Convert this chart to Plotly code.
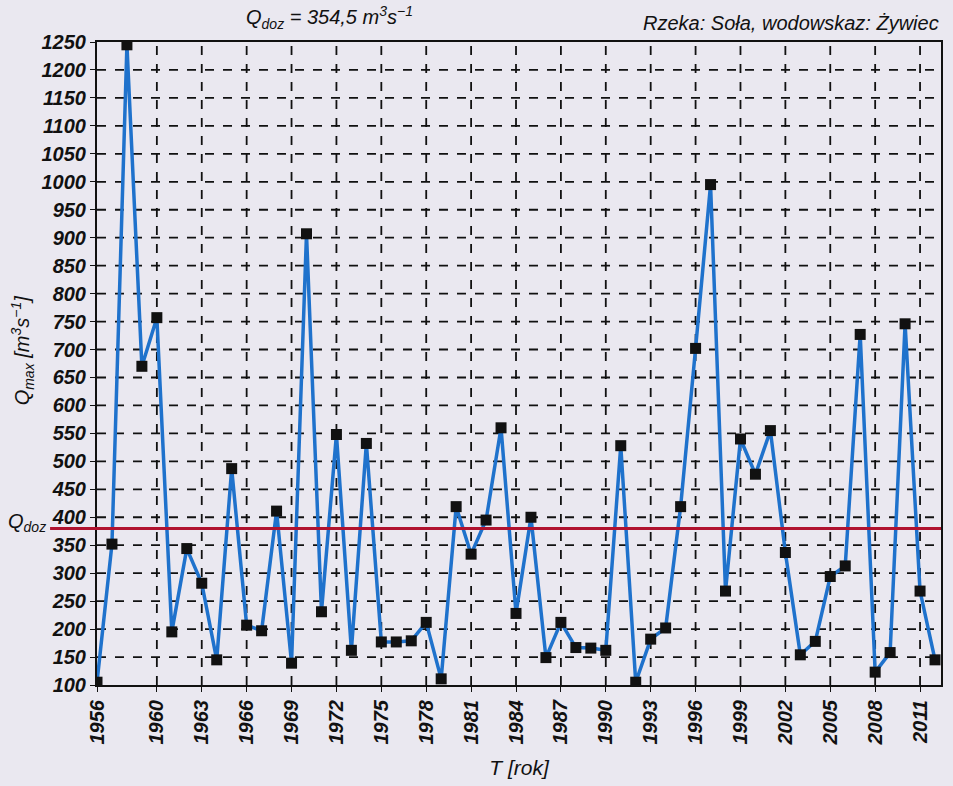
import plotly.graph_objects as go

years = list(range(1956, 2013))
qmax = [105, 352, 1245, 670, 757, 195, 344, 282, 145, 487,
        207, 197, 411, 139, 907, 231, 548, 162, 532, 177,
        177, 179, 212, 111, 419, 334, 395, 560, 228, 400,
        149, 212, 167, 166, 162, 528, 105, 182, 202, 419,
        702, 995, 268, 540, 477, 555, 337, 154, 178, 294,
        313, 727, 123, 158, 746, 268, 145]
q_doz = 380
x_ticks = [1956, 1960, 1963, 1966, 1969, 1972, 1975, 1978, 1981, 1984, 1987,
           1990, 1993, 1996, 1999, 2002, 2005, 2008, 2011]
y_ticks = list(range(100, 1251, 50))

bg = "#eae8f0"
font_fam = "Liberation Sans, Arial, sans-serif"

fig = go.Figure()
fig.add_trace(go.Scatter(
    x=years, y=qmax, mode="lines+markers",
    line=dict(color="#1f72cc", width=3.5),
    marker=dict(symbol="square", size=11, color="#111111"),
    showlegend=False,
))

shapes = []
for t in x_ticks[1:]:
    shapes.append(dict(type="line", xref="x", yref="y", x0=t, x1=t, y0=100, y1=1250,
                       line=dict(color="#111111", width=1.8, dash="dash"), layer="below"))
for v in y_ticks[1:-1]:
    shapes.append(dict(type="line", xref="x", yref="y", x0=1956, x1=2012.4, y0=v, y1=v,
                       line=dict(color="#111111", width=1.8, dash="dash"), layer="below"))
shapes.append(dict(type="line", xref="paper", yref="y", x0=-0.0556, x1=1, y0=q_doz, y1=q_doz,
                   line=dict(color="#b0122e", width=3), layer="above"))
fig.update_layout(shapes=shapes)

fig.update_xaxes(
    range=[1956, 2012.4], tickmode="array", tickvals=x_ticks,
    ticktext=[str(t) for t in x_ticks], tickangle=-90,
    tickfont=dict(family=font_fam, size=20, color="#111111", weight="bold", style="italic"),
    showgrid=False, zeroline=False, showline=True, linecolor="#111111", linewidth=2,
    mirror=True, ticks="outside", ticklen=5, tickcolor="#111111",
    title=dict(text="T [rok]", font=dict(family=font_fam, size=21, color="#111111", style="italic"),
               standoff=16),
)
fig.update_yaxes(
    range=[100, 1250], tickmode="array", tickvals=y_ticks,
    tickfont=dict(family=font_fam, size=20, color="#111111", weight="bold", style="italic"),
    showgrid=False, zeroline=False, showline=True, linecolor="#111111", linewidth=2,
    mirror=True, ticks="outside", ticklen=5, tickcolor="#111111",
)

fig.update_layout(
    width=953, height=786,
    margin=dict(l=97, r=10, t=42, b=100),
    paper_bgcolor=bg, plot_bgcolor=bg,
    annotations=[
        dict(text="Q<sub>doz</sub> = 354,5 m<sup>3</sup>s<sup>−1</sup>", xref="paper", yref="paper",
             x=0.275, y=1.0, yshift=8, xanchor="center", yanchor="bottom", showarrow=False,
             font=dict(family=font_fam, size=20, color="#111111", style="italic")),
        dict(text="Rzeka: Soła, wodowskaz: Żywiec", xref="paper", yref="paper",
             x=1.0, y=1.0, yshift=6, xanchor="right", yanchor="bottom", showarrow=False,
             font=dict(family=font_fam, size=20, color="#111111", style="italic")),
        dict(text="Q<sub>max</sub> [m<sup>3</sup>s<sup>−1</sup>]", xref="paper", yref="paper",
             x=-0.088, y=0.52, xanchor="center", yanchor="middle", textangle=-90, showarrow=False,
             font=dict(family=font_fam, size=20, color="#111111", style="italic")),
        dict(text="Q<sub>doz</sub>", xref="paper", yref="y",
             x=-0.058, y=q_doz, yshift=6, xanchor="right", yanchor="middle", showarrow=False,
             font=dict(family=font_fam, size=20, color="#111111", style="italic")),
    ],
)

fig.write_html("out.html")
